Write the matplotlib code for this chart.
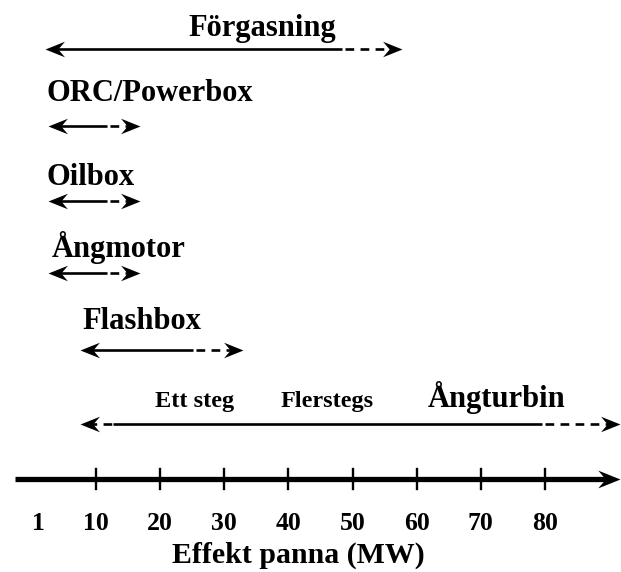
import numpy as np
import matplotlib
matplotlib.use("Agg")
import matplotlib.pyplot as plt
from matplotlib.path import Path

# capacity ranges (MW): left tip, start of solid part, end of solid part, right tip
categories = ['Förgasning', 'ORC/Powerbox', 'Oilbox', 'Ångmotor', 'Flashbox', 'Ångturbin']
range_min = [2.0, 2.5, 2.5, 2.5, 7.5, 7.5]
solid_start = [2.0, 2.5, 2.5, 2.5, 7.5, 12.6]
solid_end = [48.4, 11.7, 11.7, 11.7, 25.1, 79.6]
range_max = [57.7, 16.8, 16.8, 16.8, 32.9, 91.7]

sub_labels = ['Ett steg', 'Flerstegs']
sub_label_x = [25.3, 46.0]

tick_values = [1, 10, 20, 30, 40, 50, 60, 70, 80]
tick_labels = ['1', '10', '20', '30', '40', '50', '60', '70', '80']
axis_start, axis_end = -2.7, 91.7
xlabel = 'Effekt panna (MW)'

# layout (pixel rows, label anchors)
W, H = 621, 572
row_y = [49, 126, 201, 273, 350, 424]
label_y = [36, 101, 185, 257, 329, 407]
label_x = [35.9, 2.3, 2.3, 3.1, 7.8, 72.5]
label_ha = ['center', 'left', 'left', 'left', 'left', 'center']
axis_y = 479

plt.rcParams['font.family'] = ['Liberation Serif', 'DejaVu Serif']

fig = plt.figure(figsize=(W / 100, H / 100), dpi=100)
ax = fig.add_axes([0, 0, 1, 1])
x0 = -32 / 6.41
ax.set_xlim(x0, x0 + W / 6.41)
ax.set_ylim(H, 0)
ax.axis('off')

px = 1 / 6.41  # one pixel in MW


def head(direction):
    s = 1 if direction == 'right' else -1
    verts = [(0, 0), (-s, 0.4), (-0.66 * s, 0), (-s, -0.4), (0, 0)]
    codes = [Path.MOVETO, Path.LINETO, Path.LINETO, Path.LINETO, Path.CLOSEPOLY]
    return Path(verts, codes)


right_head = head('right')
left_head = head('left')
dash = (0, (3.3, 2.4))
lw = 1.9

for i, name in enumerate(categories):
    y = row_y[i]
    # left dashed part
    if solid_start[i] > range_min[i]:
        ax.plot([range_min[i] + 8 * px, solid_start[i]], [y, y], color='black',
                lw=lw, ls=dash, dash_capstyle='butt')
    ax.plot([max(solid_start[i], range_min[i] + 8 * px), solid_end[i]], [y, y],
            color='black', lw=lw, solid_capstyle='butt')
    ax.plot([solid_end[i] + 3 * px, range_max[i] - 8 * px], [y, y], color='black',
            lw=lw, ls=dash, dash_capstyle='butt')
    ax.plot([range_min[i]], [y], marker=left_head, ms=28, color='black', mew=0,
            zorder=3)
    ax.plot([range_max[i]], [y], marker=right_head, ms=28, color='black', mew=0,
            zorder=3)
    ax.text(label_x[i], label_y[i], name, ha=label_ha[i], va='baseline',
            fontsize=22, fontweight='bold')

for lab, xv in zip(sub_labels, sub_label_x):
    ax.text(xv, label_y[-1], lab, ha='center', va='baseline', fontsize=17.5,
            fontweight='bold')

# main axis
ax.plot([axis_start, axis_end - 10 * px], [axis_y, axis_y], color='black', lw=3.8,
        solid_capstyle='butt')
ax.plot([axis_end], [axis_y], marker=right_head, ms=32, color='black', mew=0,
        zorder=3)
for t, lab in zip(tick_values, tick_labels):
    if t >= 10:
        ax.plot([t, t], [axis_y - 10, axis_y + 10], color='black', lw=1.7)
    ax.text(t, 530, lab, ha='center', va='baseline', fontsize=18.5,
            fontweight='bold')

ax.text(41.6, 563, xlabel, ha='center', va='baseline', fontsize=21.5,
        fontweight='bold')

fig.savefig('out.png', dpi=100)
